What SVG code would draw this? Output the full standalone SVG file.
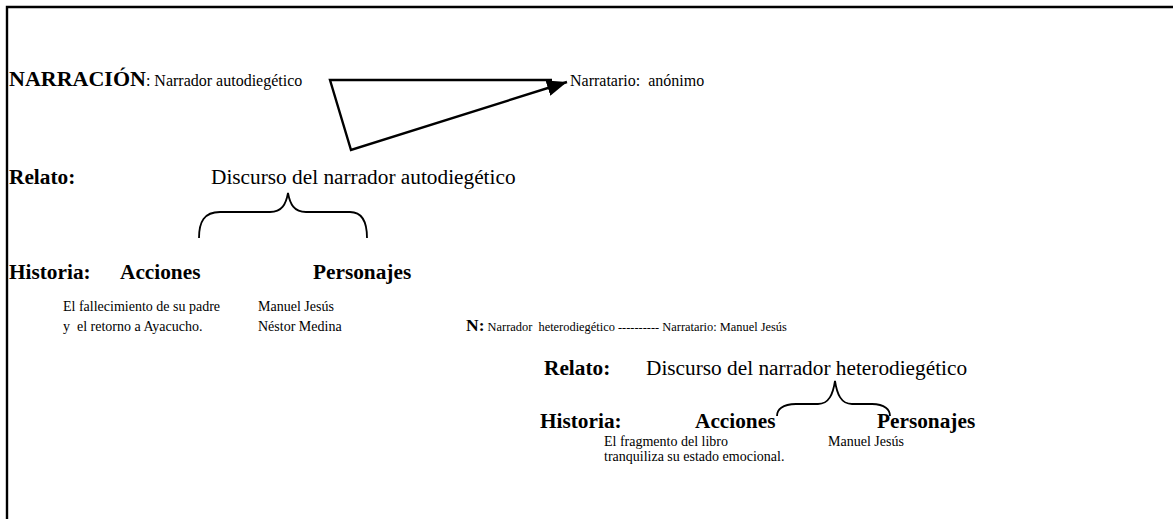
<svg xmlns="http://www.w3.org/2000/svg" width="1173" height="519" viewBox="0 0 1173 519">
  <style>
    text { font-family: "Liberation Serif", "Times New Roman", serif; fill: #000; }
    .b { font-weight: bold; }
    .head { font-size: 22px; }
    .big { font-size: 21.3px; }
    .mid { font-size: 16px; }
    .sm { font-size: 14px; }
    .xs { font-size: 12.4px; }
    .line { fill: none; stroke: #000; stroke-width: 2.4; }
    .brace { fill: none; stroke: #000; stroke-width: 1.8; }
  </style>
  <defs>
    <marker id="arrow" markerUnits="userSpaceOnUse" markerWidth="22" markerHeight="16" refX="20" refY="8" orient="auto">
      <path d="M0,0 L20,8 L0,16 Z" fill="#000"/>
    </marker>
  </defs>

  <rect width="1173" height="519" fill="#fff"/>

  <!-- page frame: top and left rules -->
  <path class="line" d="M7,519 V7 H1173"/>

  <!-- first level: narration -->
  <g id="narracion">
    <text x="9" y="86"><tspan class="b head">NARRACIÓN</tspan><tspan class="mid">: Narrador autodiegético</tspan></text>
  </g>
  <g id="narratario">
    <text class="mid" x="570" y="86" xml:space="preserve">Narratario:  anónimo</text>
  </g>

  <g id="connectors">
    <path class="line" d="M552,80 H330 L351,150 L567,82" marker-end="url(#arrow)"/>
    <!-- brace under the first discourse -->
    <path class="brace" d="M199,238 C199,222 204,212 220,212 H270 C282,212 286,204 288,193 C290,204 294,212 306,212 H350 C362,212 367,222 367,238"/>
    <!-- brace under the second discourse -->
    <path class="brace" d="M777,416 C777,410 782,404 796,404 H818 C829,404 833,394 835,381 C837,394 841,404 852,404 H872 C885,404 890,410 890,416"/>
  </g>

  <!-- first level: story -->
  <g id="relato1">
    <text class="b big" x="9" y="184">Relato:</text>
    <text class="big" x="211" y="184">Discurso del narrador autodiegético</text>
  </g>
  <g id="historia1">
    <text class="b big" x="9" y="279">Historia:</text>
    <text class="b big" x="120" y="279">Acciones</text>
    <text class="b big" x="313" y="279">Personajes</text>
  </g>
  <g id="acciones1">
    <text class="sm" x="63" y="311">El fallecimiento de su padre</text>
    <text class="sm" x="63" y="331" xml:space="preserve">y  el retorno a Ayacucho.</text>
  </g>
  <g id="personajes1">
    <text class="sm" x="258" y="311">Manuel Jesús</text>
    <text class="sm" x="258" y="331">Néstor Medina</text>
  </g>

  <!-- second level: embedded narration -->
  <g id="narracion2">
    <text x="466" y="331" xml:space="preserve"><tspan class="b" font-size="17.5">N:</tspan><tspan class="xs"> Narrador  heterodiegético ---------- Narratario: Manuel Jesús</tspan></text>
  </g>
  <g id="relato2">
    <text class="b big" x="544" y="375">Relato:</text>
    <text class="big" x="646" y="375">Discurso del narrador heterodiegético</text>
  </g>
  <g id="historia2">
    <text class="b big" x="540" y="428">Historia:</text>
    <text class="b big" x="695" y="428">Acciones</text>
    <text class="b big" x="877" y="428">Personajes</text>
  </g>
  <g id="acciones2">
    <text class="sm" x="604" y="446">El fragmento del libro</text>
    <text class="sm" x="604" y="461">tranquiliza su estado emocional.</text>
  </g>
  <g id="personajes2">
    <text class="sm" x="828" y="446">Manuel Jesús</text>
  </g>
</svg>
